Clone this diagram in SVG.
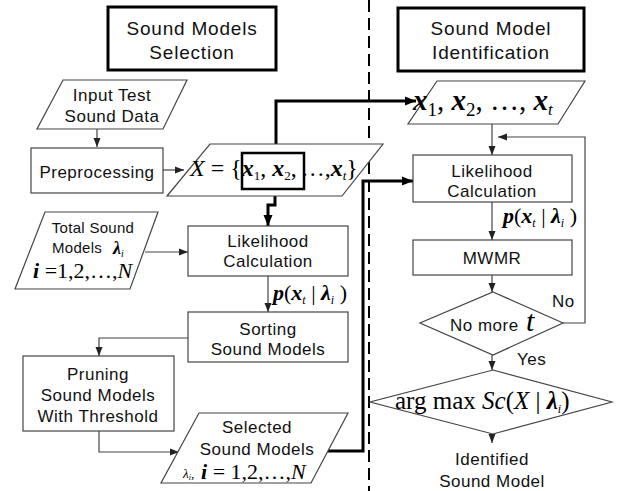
<svg xmlns="http://www.w3.org/2000/svg" width="617" height="491" viewBox="0 0 617 491">
<defs>
<marker id="ah" markerUnits="userSpaceOnUse" markerWidth="10" markerHeight="8" refX="9" refY="4" orient="auto"><path d="M0,0.5 L9,4 L0,7.5 Z" fill="#222"/></marker>
<marker id="ahb" markerUnits="userSpaceOnUse" markerWidth="12" markerHeight="10" refX="11" refY="5" orient="auto"><path d="M0,0.5 L11,5 L0,9.5 Z" fill="#000"/></marker>
<style>
.box{fill:#fff;stroke:#444;stroke-width:1.2}
.title{fill:#fff;stroke:#000;stroke-width:3}
.t{font-family:"Liberation Sans",Arial,sans-serif;font-size:17px;fill:#111;text-anchor:middle;letter-spacing:0.5px}
.tt{font-size:19px;letter-spacing:0.8px}
.ts{font-size:15px;letter-spacing:0.3px}
.st{text-anchor:start}
.m{font-family:"Liberation Serif","Times New Roman",serif;fill:#000}
.bi{font-weight:bold;font-style:italic}
.it{font-style:italic}
.c{fill:none;stroke:#444;stroke-width:1.2}
.ck{fill:none;stroke:#000;stroke-width:3}
</style>
</defs>
<rect width="617" height="491" fill="#fff"/>

<g id="connectors">
<line x1="369" y1="0" x2="369" y2="491" stroke="#000" stroke-width="2" stroke-dasharray="12,6"/>
<path class="c" d="M97,129 V147" marker-end="url(#ah)"/>
<path class="c" d="M163,170 H184" marker-end="url(#ah)"/>
<path class="c" d="M145,252 H188" marker-end="url(#ah)"/>
<path class="c" d="M268,276 V312" marker-end="url(#ah)"/>
<path class="c" d="M188,338 H99 V356" marker-end="url(#ah)"/>
<path class="c" d="M99,431 V452 H179" marker-end="url(#ah)"/>
<path class="c" d="M492,124 V155" marker-end="url(#ah)"/>
<path class="c" d="M492,202 V240" marker-end="url(#ah)"/>
<path class="c" d="M492,275 V292" marker-end="url(#ah)"/>
<path class="c" d="M563,323 H585 V137 H498" marker-end="url(#ah)"/>
<path class="c" d="M492,355 V370" marker-end="url(#ah)"/>
<path class="c" d="M492,434 V443" marker-end="url(#ah)"/>
<path class="ck" d="M276,153 V101 H416" marker-end="url(#ahb)"/>
<path class="ck" d="M275,189 V205 H268 V226" marker-end="url(#ahb)"/>
<path class="ck" d="M328,451 H363 V181 H413" marker-end="url(#ahb)"/>
</g>

<g id="title-selection">
<rect class="title" x="108" y="7" width="168" height="63"/>
<text class="t tt" x="192" y="35">Sound Models</text>
<text class="t tt" x="192" y="59">Selection</text>
</g>

<g id="title-identification">
<rect class="title" x="398" y="8" width="186" height="63"/>
<text class="t tt" x="491" y="35">Sound Model</text>
<text class="t tt" x="491" y="59">Identification</text>
</g>

<g id="input">
<polygon class="box" points="63,80 187,80 163,129 37,129"/>
<text class="t" x="112" y="101">Input Test</text>
<text class="t" x="112" y="122">Sound Data</text>
</g>

<g id="preprocessing">
<rect class="box" x="31" y="148" width="132" height="45"/>
<text class="t" x="97" y="178">Preprocessing</text>
</g>

<g id="xset">
<polygon class="box" points="210,144 383,144 342,196 167,196"/>
<text class="m" x="190" y="176" font-size="24"><tspan class="it">X</tspan> = {<tspan class="bi">x</tspan><tspan font-size="13" dy="4">1</tspan><tspan dy="-4">, </tspan><tspan class="bi">x</tspan><tspan font-size="13" dy="4">2</tspan><tspan dy="-4">,</tspan><tspan dx="4">…,</tspan><tspan class="bi">x</tspan><tspan class="it" font-size="13" dy="4">t</tspan><tspan dy="-4">}</tspan></text>
<rect x="242" y="153" width="62" height="36" fill="none" stroke="#000" stroke-width="2.5"/>
</g>

<g id="total">
<polygon class="box" points="45,212 158,212 130,289 15,289"/>
<text class="t ts" x="93" y="233">Total Sound</text>
<text class="t ts st" x="52" y="253">Models</text>
<text class="m" x="113" y="254" font-size="18"><tspan class="bi">λ</tspan><tspan class="it" font-size="10" dy="3">i</tspan></text>
<text class="m" x="33" y="278" font-size="22"><tspan class="bi">i</tspan> =1,2,…,<tspan class="it">N</tspan></text>
</g>

<g id="likelihood-left">
<rect class="box" x="188" y="226" width="160" height="50"/>
<text class="t" x="268" y="247">Likelihood</text>
<text class="t" x="268" y="267">Calculation</text>
</g>

<g id="sorting">
<rect class="box" x="188" y="312" width="160" height="50"/>
<text class="t" x="268" y="335">Sorting</text>
<text class="t" x="268" y="355">Sound Models</text>
</g>

<g id="pruning">
<rect class="box" x="23" y="356" width="151" height="75"/>
<text class="t" x="98" y="380">Pruning</text>
<text class="t" x="98" y="401">Sound Models</text>
<text class="t" x="98" y="422">With Threshold</text>
</g>

<g id="selected">
<polygon class="box" points="199,413 348,413 311,483 161,483"/>
<text class="t" x="257" y="433">Selected</text>
<text class="t" x="257" y="455">Sound Models</text>
<text class="m" x="183" y="478" font-size="13"><tspan class="it">λ</tspan><tspan class="it" font-size="8" dy="2">i</tspan><tspan dy="-2">,</tspan></text>
<text class="m" x="201" y="479" font-size="22"><tspan class="bi">i</tspan> = 1,2,…,<tspan class="it">N</tspan></text>
</g>

<g id="p-left">
<text class="m" x="273" y="300" font-size="22"><tspan class="bi">p</tspan>(<tspan class="bi">x</tspan><tspan class="it" font-size="12" dy="4">t</tspan><tspan dy="-4"> | </tspan><tspan class="bi">λ</tspan><tspan class="it" font-size="12" dy="4">i</tspan><tspan dy="-4"> )</tspan></text>
</g>

<g id="xs">
<polygon class="box" points="437,81 585,81 558,124 408,124"/>
<text class="m" x="413" y="110" font-size="29"><tspan class="bi">x</tspan><tspan font-size="19" dy="6">1</tspan><tspan dy="-6">, </tspan><tspan class="bi">x</tspan><tspan font-size="19" dy="6">2</tspan><tspan dy="-6">, …, </tspan><tspan class="bi">x</tspan><tspan class="it" font-size="17" dy="5">t</tspan></text>
</g>

<g id="likelihood-right">
<rect class="box" x="413" y="155" width="159" height="47"/>
<text class="t" x="492" y="177">Likelihood</text>
<text class="t" x="492" y="197">Calculation</text>
</g>

<g id="p-right">
<text class="m" x="503" y="223" font-size="22"><tspan class="bi">p</tspan>(<tspan class="bi">x</tspan><tspan class="it" font-size="12" dy="4">t</tspan><tspan dy="-4"> | </tspan><tspan class="bi">λ</tspan><tspan class="it" font-size="12" dy="4">i</tspan><tspan dy="-4"> )</tspan></text>
</g>

<g id="mwmr">
<rect class="box" x="413" y="240" width="159" height="35"/>
<text class="t" x="492" y="264">MWMR</text>
</g>

<g id="nomore">
<polygon class="box" points="493,292 563,323 493,355 420,323"/>
<text class="t st" x="450" y="331">No more</text>
<text class="m it" x="526" y="331" font-size="30">t</text>
</g>

<g id="labels">
<text class="t st" x="552" y="307">No</text>
<text class="t st" x="517" y="365">Yes</text>
</g>

<g id="argmax">
<polygon class="box" points="493,370 612,402 493,434 370,402"/>
<text class="m" x="395" y="409" font-size="25">arg max <tspan class="it">Sc</tspan>(<tspan class="it">X</tspan> | <tspan class="bi">λ</tspan><tspan class="it" font-size="12" dy="4">i</tspan><tspan dy="-4">)</tspan></text>
</g>

<g id="identified">
<text class="t" x="492" y="465">Identified</text>
<text class="t" x="492" y="487">Sound Model</text>
</g>
</svg>
